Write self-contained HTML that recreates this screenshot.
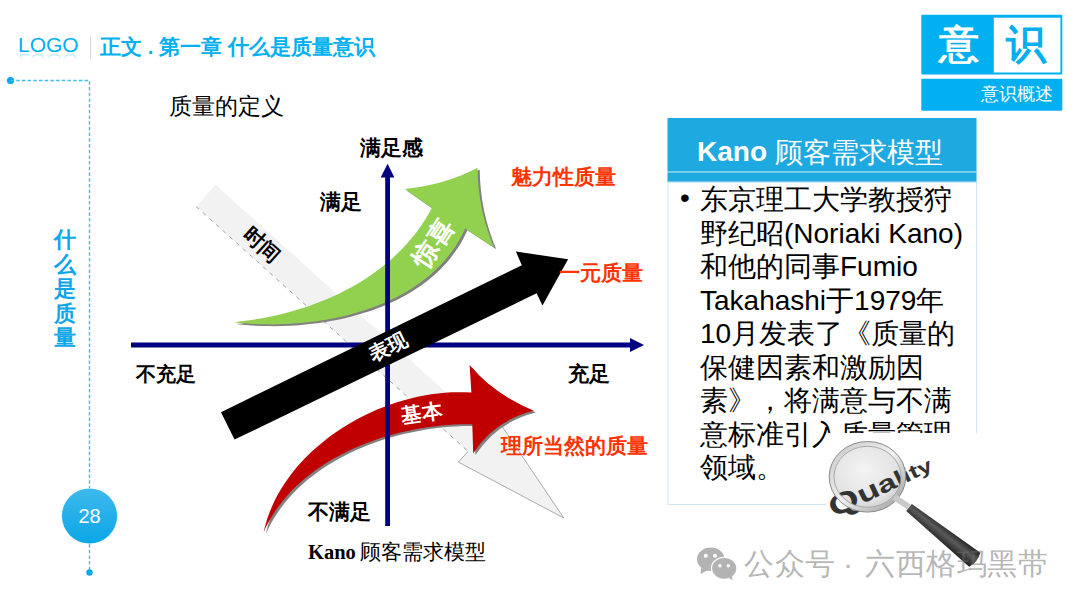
<!DOCTYPE html>
<html><head><meta charset="utf-8">
<style>
html,body{margin:0;padding:0;background:#fff;}
body{width:1080px;height:608px;position:relative;overflow:hidden;font-family:"Liberation Sans",sans-serif;}
.t{position:absolute;white-space:nowrap;line-height:1;}
svg{position:absolute;left:0;top:0;}
</style></head><body>
<svg width="1080" height="608" viewBox="0 0 1080 608">
  <defs>
    <linearGradient id="g28" x1="0" y1="0" x2="0" y2="1"><stop offset="0" stop-color="#3db9ec"/><stop offset="1" stop-color="#0ca6e6"/></linearGradient>
    <linearGradient id="gband" x1="0" y1="0" x2="1" y2="0">
      <stop offset="0" stop-color="#eeeeee"/>
      <stop offset="1" stop-color="#f2f2f2"/>
    </linearGradient>
  </defs>
  <!-- left dashed frame -->
  <circle cx="10.5" cy="80.5" r="3.6" fill="#00a9ea"/>
  <path d="M10.5 80.5 H89.5 V488" stroke="#3fbdf0" stroke-width="1.4" stroke-dasharray="3.5 2.2" fill="none"/>
  <path d="M89.5 544 V572" stroke="#3fbdf0" stroke-width="1.4" stroke-dasharray="3.5 2.2" fill="none"/>
  <circle cx="89.5" cy="572.5" r="3.2" fill="#00a9ea"/>
  <circle cx="89.5" cy="516" r="27.6" fill="url(#g28)"/>

  <!-- gray time band -->
  <polygon points="215.6,184.8 487.6,429.7 497.2,419.0 563.8,518.0 458.4,462.1 468.1,451.4 196.1,206.5" fill="#f2f2f2"/>
  <path d="M196.1,206.5 L468.1,451.4" stroke="#8a8a8a" stroke-width="0.8" stroke-dasharray="4 5" fill="none"/>
  <path d="M468.1,451.4 L458.4,462.1 L563.8,518.0 L497.2,419.0" stroke="#8a8a8a" stroke-width="0.7" fill="none"/>

  <!-- green arrow shadow + body -->
  <g id="green">
    <path transform="translate(2.2,1.8)" fill="#808080" d="M233.7,322.2 L239.7,321.6 L245.7,320.8 L251.7,319.9 L257.8,319.0 L263.8,317.9 L269.8,316.7 L275.8,315.4 L281.8,314.0 L287.7,312.5 L293.7,310.8 L299.6,309.0 L305.4,307.2 L311.2,305.2 L317.0,303.1 L322.7,300.8 L328.4,298.5 L334.0,296.0 L339.5,293.4 L345.0,290.6 L350.4,287.8 L355.7,284.8 L360.9,281.7 L366.0,278.4 L371.1,275.1 L376.0,271.6 L380.8,267.9 L385.6,264.1 L390.2,260.2 L394.6,256.2 L399.0,252.0 L403.2,247.7 L407.3,243.2 L411.3,238.6 L415.1,233.9 L418.8,229.0 L422.3,224.0 L425.7,218.8 L428.9,213.5 L431.9,208.0 L404.7,189 Q445,185 477.5,167.8 Q478,210 494,247.5 L465.2,228.5 L462.2,234.7 L459.0,240.6 L455.4,246.4 L451.6,251.8 L447.6,257.1 L443.3,262.1 L438.7,267.0 L433.9,271.6 L428.9,275.9 L423.7,280.1 L418.3,284.1 L412.8,287.8 L407.0,291.4 L401.1,294.7 L395.1,297.9 L388.9,300.8 L382.5,303.6 L376.1,306.2 L369.6,308.6 L362.9,310.8 L356.2,312.8 L349.4,314.7 L342.6,316.4 L335.7,317.9 L328.7,319.2 L321.8,320.4 L314.8,321.5 L307.8,322.3 L300.8,323.0 L293.8,323.6 L286.9,324.0 L280.0,324.2 L273.1,324.4 L266.4,324.3 L259.6,324.2 L253.0,323.9 L246.5,323.4 L240.0,322.9 L233.7,322.2 Z"/>
    <path fill="#92d050" d="M233.7,322.2 L239.7,321.6 L245.7,320.8 L251.7,319.9 L257.8,319.0 L263.8,317.9 L269.8,316.7 L275.8,315.4 L281.8,314.0 L287.7,312.5 L293.7,310.8 L299.6,309.0 L305.4,307.2 L311.2,305.2 L317.0,303.1 L322.7,300.8 L328.4,298.5 L334.0,296.0 L339.5,293.4 L345.0,290.6 L350.4,287.8 L355.7,284.8 L360.9,281.7 L366.0,278.4 L371.1,275.1 L376.0,271.6 L380.8,267.9 L385.6,264.1 L390.2,260.2 L394.6,256.2 L399.0,252.0 L403.2,247.7 L407.3,243.2 L411.3,238.6 L415.1,233.9 L418.8,229.0 L422.3,224.0 L425.7,218.8 L428.9,213.5 L431.9,208.0 L404.7,189 Q445,185 477.5,167.8 Q478,210 494,247.5 L465.2,228.5 L462.2,234.7 L459.0,240.6 L455.4,246.4 L451.6,251.8 L447.6,257.1 L443.3,262.1 L438.7,267.0 L433.9,271.6 L428.9,275.9 L423.7,280.1 L418.3,284.1 L412.8,287.8 L407.0,291.4 L401.1,294.7 L395.1,297.9 L388.9,300.8 L382.5,303.6 L376.1,306.2 L369.6,308.6 L362.9,310.8 L356.2,312.8 L349.4,314.7 L342.6,316.4 L335.7,317.9 L328.7,319.2 L321.8,320.4 L314.8,321.5 L307.8,322.3 L300.8,323.0 L293.8,323.6 L286.9,324.0 L280.0,324.2 L273.1,324.4 L266.4,324.3 L259.6,324.2 L253.0,323.9 L246.5,323.4 L240.0,322.9 L233.7,322.2 Z"/>
  </g>

  <!-- red arrow -->
  <g id="red">
    <path transform="translate(2.2,1.8)" fill="#808080" d="M263.6,532.3 L265.2,525.7 L267.1,519.3 L269.3,512.9 L271.9,506.7 L274.7,500.6 L277.8,494.6 L281.2,488.7 L284.9,483.0 L288.8,477.4 L292.9,471.9 L297.3,466.6 L301.9,461.5 L306.7,456.5 L311.8,451.6 L317.0,446.9 L322.4,442.4 L327.9,438.0 L333.7,433.8 L339.5,429.8 L345.5,426.0 L351.7,422.3 L357.9,418.8 L364.3,415.6 L370.7,412.5 L377.2,409.6 L383.8,406.9 L390.5,404.5 L397.2,402.2 L404.0,400.2 L410.7,398.4 L417.6,396.8 L424.4,395.4 L431.2,394.3 L438.0,393.4 L444.7,392.7 L451.5,392.3 L458.2,392.2 L464.8,392.3 L471.4,392.6 L469.6,365.1 Q492,393 533.8,410.7 Q495,420 473.2,453.2 L472.3,424.2 L466.3,424.2 L460.2,424.3 L454.1,424.6 L447.9,425.0 L441.6,425.5 L435.3,426.2 L429.0,427.0 L422.7,428.0 L416.3,429.1 L410.0,430.4 L403.6,431.8 L397.3,433.3 L391.0,435.0 L384.7,436.8 L378.5,438.8 L372.3,441.0 L366.2,443.2 L360.1,445.7 L354.1,448.3 L348.2,451.0 L342.4,453.9 L336.7,456.9 L331.1,460.1 L325.6,463.4 L320.2,466.9 L315.0,470.6 L310.0,474.4 L305.0,478.3 L300.3,482.4 L295.7,486.7 L291.3,491.1 L287.1,495.7 L283.1,500.5 L279.2,505.4 L275.7,510.4 L272.3,515.7 L269.1,521.0 L266.2,526.6 L263.6,532.3 Z"/>
    <path fill="#c00000" d="M263.6,532.3 L265.2,525.7 L267.1,519.3 L269.3,512.9 L271.9,506.7 L274.7,500.6 L277.8,494.6 L281.2,488.7 L284.9,483.0 L288.8,477.4 L292.9,471.9 L297.3,466.6 L301.9,461.5 L306.7,456.5 L311.8,451.6 L317.0,446.9 L322.4,442.4 L327.9,438.0 L333.7,433.8 L339.5,429.8 L345.5,426.0 L351.7,422.3 L357.9,418.8 L364.3,415.6 L370.7,412.5 L377.2,409.6 L383.8,406.9 L390.5,404.5 L397.2,402.2 L404.0,400.2 L410.7,398.4 L417.6,396.8 L424.4,395.4 L431.2,394.3 L438.0,393.4 L444.7,392.7 L451.5,392.3 L458.2,392.2 L464.8,392.3 L471.4,392.6 L469.6,365.1 Q492,393 533.8,410.7 Q495,420 473.2,453.2 L472.3,424.2 L466.3,424.2 L460.2,424.3 L454.1,424.6 L447.9,425.0 L441.6,425.5 L435.3,426.2 L429.0,427.0 L422.7,428.0 L416.3,429.1 L410.0,430.4 L403.6,431.8 L397.3,433.3 L391.0,435.0 L384.7,436.8 L378.5,438.8 L372.3,441.0 L366.2,443.2 L360.1,445.7 L354.1,448.3 L348.2,451.0 L342.4,453.9 L336.7,456.9 L331.1,460.1 L325.6,463.4 L320.2,466.9 L315.0,470.6 L310.0,474.4 L305.0,478.3 L300.3,482.4 L295.7,486.7 L291.3,491.1 L287.1,495.7 L283.1,500.5 L279.2,505.4 L275.7,510.4 L272.3,515.7 L269.1,521.0 L266.2,526.6 L263.6,532.3 Z"/>
  </g>

  <!-- axes -->
  <g fill="#000080">
    <rect x="131" y="342.5" width="500" height="5"/>
    <polygon points="630,338 644,345 630,352"/>
    <rect x="385.2" y="176" width="4.8" height="350"/>
    <polygon points="380.7,177.5 387.6,163.8 394.4,177.5"/>
  </g>

  <!-- black arrow -->
  <polygon fill="#000" points="221,412.2 521.8,265.2 515.9,251.5 568.1,259.3 542.5,305.5 536.6,293.3 234.5,439.6"/>

  <!-- top right badge -->
  <rect x="921.3" y="14.8" width="141" height="59.8" rx="1" fill="#00b0f0"/>
  <rect x="993.8" y="17.7" width="66.6" height="54.8" fill="#fff"/>
  <rect x="921.3" y="78.8" width="141" height="32" rx="1" fill="#00b0f0"/>

  <!-- Kano box -->
  <rect x="667.5" y="118" width="309" height="53.5" fill="#1fa9e1"/>
  <rect x="667.5" y="171.5" width="309" height="1.2" fill="#66c6ee"/>
  <rect x="667.5" y="172.7" width="309" height="9.5" fill="#1fa9e1"/>
  <rect x="668" y="182" width="308.5" height="322.5" fill="none" stroke="#cfe6f5" stroke-width="1"/>
</svg>

<!-- header -->
<div class="t" style="left:18px;top:34px;font-size:21px;color:#00b0f0;">LOGO</div>
<div class="t" style="left:18px;top:50px;font-size:21px;color:#00b0f0;transform:scaleY(-1);transform-origin:0 50%;-webkit-mask-image:linear-gradient(to top,rgba(0,0,0,0.45),rgba(0,0,0,0) 45%);mask-image:linear-gradient(to top,rgba(0,0,0,0.45),rgba(0,0,0,0) 45%);height:22px;">LOGO</div>
<div style="position:absolute;left:90px;top:36px;width:1px;height:23px;background:#d8d8d8;"></div>
<div class="t" style="left:100px;top:36.5px;font-size:20.5px;font-weight:bold;color:#00b0f0;">正文 . 第一章 什么是质量意识</div>

<div class="t" style="left:54px;top:228px;font-size:22px;line-height:24.6px;font-weight:bold;color:#0fa5e8;white-space:normal;width:24px;">什么是质量</div>
<div class="t" style="left:62px;top:506px;font-size:20px;color:#fff;width:55px;text-align:center;left:62px;">28</div>

<div class="t" style="left:169px;top:95px;font-size:23px;font-family:'Liberation Serif',serif;color:#000;">质量的定义</div>
<div class="t" style="left:360px;top:138px;font-size:20.5px;font-weight:bold;">满足感</div>
<div class="t" style="left:320px;top:192px;font-size:20.5px;font-weight:bold;">满足</div>
<div class="t" style="left:511px;top:167px;font-size:20.8px;font-weight:bold;color:#ff3300;">魅力性质量</div>
<div class="t" style="left:559px;top:263px;font-size:20.8px;font-weight:bold;color:#ff3300;">一元质量</div>
<div class="t" style="left:136px;top:364px;font-size:20px;font-weight:bold;">不充足</div>
<div class="t" style="left:568px;top:363px;font-size:21px;font-weight:bold;">充足</div>
<div class="t" style="left:501px;top:436px;font-size:20.5px;font-weight:bold;color:#ff3300;">理所当然的质量</div>
<div class="t" style="left:308px;top:502px;font-size:20.5px;font-weight:bold;">不满足</div>
<div class="t" style="left:308px;top:542px;font-size:20.5px;font-family:'Liberation Serif',serif;font-weight:bold;">Kano <span style="font-weight:normal;font-size:20.5px;margin-left:-1px;">顾客需求模型</span></div>

<!-- rotated labels -->
<div class="t" style="left:241px;top:235px;font-size:20.5px;font-weight:bold;transform:rotate(42deg);">时间</div>
<div class="t" style="left:368px;top:337px;font-size:20px;font-weight:bold;color:#fff;transform:rotate(-26deg);">表现</div>
<div class="t" style="left:407px;top:230px;font-size:26px;font-weight:bold;color:#fff;transform:rotate(-57deg);">惊喜</div>
<div class="t" style="left:401px;top:403px;font-size:20.5px;font-weight:bold;color:#fff;transform:rotate(-8deg);">基本</div>

<!-- badge text -->
<div class="t" style="left:939px;top:25px;font-size:40px;font-family:'Liberation Serif',serif;font-weight:bold;color:#fff;">意</div>
<div class="t" style="left:1006px;top:25px;font-size:40px;font-family:'Liberation Serif',serif;font-weight:bold;color:#00b0f0;">识</div>
<div class="t" style="left:981px;top:85px;font-size:18px;color:#fff;">意识概述</div>

<!-- Kano box text -->
<div class="t" style="left:697px;top:138px;font-size:28px;font-weight:bold;color:#fff;">Kano <span style="font-weight:normal;font-size:28px;vertical-align:-1px;">顾客需求模型</span></div>
<div style="position:absolute;left:680px;top:181px;width:20px;font-size:28px;line-height:33.5px;">•</div>
<div style="position:absolute;left:700px;top:183px;width:290px;font-size:28px;line-height:33.5px;color:#000;white-space:nowrap;">东京理工大学教授狩<br>野纪昭(Noriaki Kano)<br>和他的同事Fumio<br>Takahashi于1979年<br>10月发表了《质量的<br>保健因素和激励因<br>素》，将满意与不满<br>意标准引入质量管理<br>领域。</div>

<!-- magnifier -->
<svg width="1080" height="608" viewBox="0 0 1080 608">
  <defs>
    <radialGradient id="glass" cx="0.45" cy="0.4" r="0.6">
      <stop offset="0" stop-color="#f4f4f4"/>
      <stop offset="0.8" stop-color="#e2e2e2"/>
      <stop offset="1" stop-color="#d0d0d0"/>
    </radialGradient>
    <linearGradient id="handle" x1="0" y1="0" x2="0" y2="1">
      <stop offset="0" stop-color="#222"/>
      <stop offset="0.45" stop-color="#5a5a5a"/>
      <stop offset="1" stop-color="#1e1e1e"/>
    </linearGradient>
    <linearGradient id="rim" x1="0" y1="0" x2="1" y2="1">
      <stop offset="0" stop-color="#c8c8c8"/>
      <stop offset="0.5" stop-color="#f0f0f0"/>
      <stop offset="1" stop-color="#9a9a9a"/>
    </linearGradient>
  </defs>
  <rect x="826" y="433" width="160" height="137" fill="#fff"/>
  <ellipse cx="867.5" cy="476.8" rx="35.5" ry="32.5" fill="url(#glass)"/>
  <text transform="translate(834,518) rotate(-26) scale(1,0.72)" font-family="Liberation Sans" font-weight="bold" fill="#333"><tspan font-size="40">Q</tspan><tspan font-size="36">u</tspan><tspan font-size="33">a</tspan><tspan font-size="30">l</tspan><tspan font-size="28">i</tspan><tspan font-size="27">t</tspan><tspan font-size="26">y</tspan></text>
  <ellipse cx="867.5" cy="476.8" rx="36" ry="33" fill="none" stroke="url(#rim)" stroke-width="4.5"/>
  <ellipse cx="867.5" cy="476.8" rx="38.3" ry="35.3" fill="none" stroke="#8a8a8a" stroke-width="1"/>
  <ellipse cx="867.5" cy="476.8" rx="33.5" ry="30.5" fill="none" stroke="#9a9a9a" stroke-width="0.8"/>
  <path d="M894,497 L909,507" stroke="#c9c9c9" stroke-width="6" stroke-linecap="butt"/>
  <g transform="translate(909,507.5) rotate(38.5)">
    <path d="M0,-4.5 L84,-9 Q88,0 84,9 L0,4.5 Z" fill="url(#handle)"/>
  </g>
</svg>

<!-- watermark -->
<svg width="1080" height="608" viewBox="0 0 1080 608" style="opacity:0.75">
  <g fill="#9a9a9a">
    <ellipse cx="710.8" cy="559.2" rx="13.8" ry="11.7"/>
    <path d="M701,568 L700.5,574 L708,570 Z"/>
    <ellipse cx="724.2" cy="568.3" rx="13.3" ry="11.6" fill="#fff"/>
    <ellipse cx="724.2" cy="568.3" rx="12.1" ry="10.4"/>
    <path d="M728,577 L732.5,580.5 L732,574 Z"/>
  </g>
  <g fill="#fff">
    <circle cx="705.8" cy="555.8" r="2"/><circle cx="715" cy="555.8" r="2"/>
    <circle cx="720" cy="565.8" r="1.7"/><circle cx="728.3" cy="565.8" r="1.7"/>
  </g>
</svg>
<div class="t" style="left:744px;top:548px;font-size:30.4px;letter-spacing:0.5px;color:rgba(110,110,110,0.52);">公众号</div>
<div class="t" style="left:843px;top:548px;font-size:30.4px;color:rgba(110,110,110,0.52);">·</div>
<div class="t" style="left:865px;top:548px;font-size:30.4px;letter-spacing:0.5px;color:rgba(110,110,110,0.52);">六西格玛黑带</div>
</body></html>
